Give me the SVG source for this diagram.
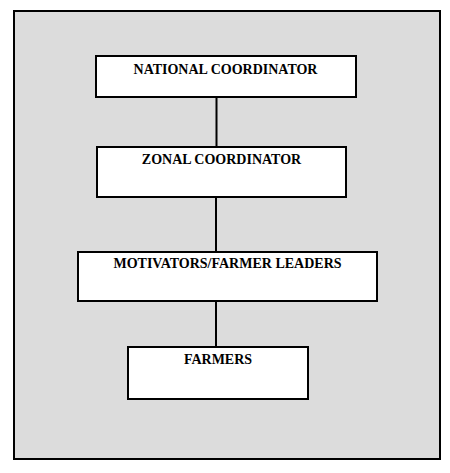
<svg xmlns="http://www.w3.org/2000/svg" width="450" height="473" viewBox="0 0 450 473">
<style>
.box{fill:#ffffff;stroke:#000000;stroke-width:2}
.lbl{font-family:"Liberation Serif","Times New Roman",serif;font-weight:bold;font-size:14px;fill:#000000;text-anchor:middle}
.conn{stroke:#000000;stroke-width:2;fill:none}
</style>
<rect width="450" height="473" fill="#ffffff"/>
<rect x="14" y="11" width="426" height="448" fill="#dcdcdc" stroke="#000000" stroke-width="2"/>
<g id="connectors">
<line class="conn" x1="216.5" y1="97" x2="216.5" y2="147"/>
<line class="conn" x1="216" y1="197" x2="216" y2="252"/>
<line class="conn" x1="216" y1="301" x2="216" y2="347"/>
</g>
<g id="national">
<rect class="box" x="96" y="56" width="260" height="41"/>
<text class="lbl" x="225.5" y="73.5">NATIONAL COORDINATOR</text>
</g>
<g id="zonal">
<rect class="box" x="97" y="147" width="249" height="50"/>
<text class="lbl" x="221.5" y="163.5">ZONAL COORDINATOR</text>
</g>
<g id="motivators">
<rect class="box" x="78" y="252" width="299" height="49"/>
<text class="lbl" x="227.5" y="268">MOTIVATORS/FARMER LEADERS</text>
</g>
<g id="farmers">
<rect class="box" x="128" y="347" width="180" height="52"/>
<text class="lbl" x="218" y="364">FARMERS</text>
</g>
</svg>
